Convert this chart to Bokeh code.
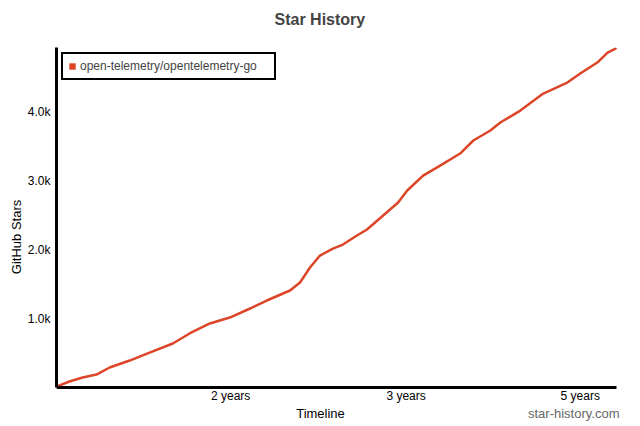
from bokeh.plotting import figure
from bokeh.models import Range1d, FixedTicker, Legend, LegendItem, Label, ColumnDataSource
from bokeh.embed import file_html
from bokeh.resources import INLINE

# ---- data ----
series_name = "open-telemetry/opentelemetry-go"
days = [0, 44, 89, 136, 181, 249, 317, 396, 453, 522, 590, 659, 716, 795, 829, 863, 897,
        941, 975, 1023, 1057, 1112, 1163, 1194, 1248, 1306, 1374, 1419, 1477, 1511, 1579,
        1657, 1739, 1783, 1841, 1876, 1903]
stars = [14, 87, 145, 188, 290, 391, 507, 638, 783, 928, 1014, 1145, 1261, 1406, 1522, 1739, 1913,
         2014, 2072, 2203, 2290, 2493, 2681, 2855, 3072, 3217, 3391, 3580, 3725, 3841, 4014,
         4261, 4420, 4551, 4710, 4855, 4913]
x_tick_positions = [593, 1190, 1783]
x_tick_labels = ["2 years", "3 years", "5 years"]
y_tick_positions = [1000, 2000, 3000, 4000]
y_tick_labels = ["1.0k", "2.0k", "3.0k", "4.0k"]

FONT = "Liberation Sans"
RED = "#dd4528"
X_END = 1906    # end of the drawn x axis
X_MAX = 1920    # a little room on the right for the credit text
Y_MAX = 4928
Y_PAD = -565    # room below the x axis for its labels and the credit line

p = figure(frame_width=564, frame_height=379, output_backend="svg", toolbar_location=None,
           x_range=Range1d(0, X_MAX), y_range=Range1d(Y_PAD, Y_MAX),
           min_border_left=56, min_border_right=20, min_border_top=47, min_border_bottom=0)

p.title.text = "Star History"
p.title.text_font = FONT
p.title.text_font_size = "16px"
p.title.text_font_style = "bold"
p.title.align = "left"
p.title.offset = 218
p.title.standoff = 0
p.title.padding = dict(left=0, right=0, top=0, bottom=20)

p.outline_line_color = None
p.xgrid.grid_line_color = None
p.ygrid.grid_line_color = None

src = ColumnDataSource(dict(x=days, y=stars))
line = p.line("x", "y", source=src, line_color=RED, line_width=2.5, line_join="round", line_cap="round")
# legend swatch: uses the same series, muted so it draws nothing in the plot area
swatch = p.rect("x", "y", source=src, width=1, height=1, fill_color=RED, line_color=None,
                muted_alpha=0)
swatch.muted = True

for ax in (p.xaxis[0], p.yaxis[0]):
    ax.axis_line_color = "black"
    ax.axis_line_width = 3
    ax.major_tick_line_color = None
    ax.minor_tick_line_color = None
    ax.major_tick_out = 0
    ax.major_tick_in = 0
    ax.minor_tick_out = 0
    ax.minor_tick_in = 0
    ax.major_label_text_font = FONT
    ax.major_label_text_font_size = "12px"
    ax.major_label_text_color = "black"
    ax.axis_label_text_font = FONT
    ax.axis_label_text_font_size = "13px"
    ax.axis_label_text_font_style = "normal"
    ax.axis_label_text_color = "black"

p.xaxis.fixed_location = 0
p.xaxis.bounds = (0, X_END)
p.xaxis.ticker = FixedTicker(ticks=x_tick_positions)
p.xaxis.major_label_overrides = dict(zip(x_tick_positions, x_tick_labels))
p.xaxis.major_label_standoff = 1

p.yaxis.bounds = (0, Y_MAX)
p.yaxis.ticker = FixedTicker(ticks=y_tick_positions)
p.yaxis.major_label_overrides = dict(zip(y_tick_positions, y_tick_labels))
p.yaxis.axis_label = "GitHub Stars"
p.yaxis.major_label_standoff = 6
p.yaxis.axis_label_standoff = 1

legend = Legend(items=[LegendItem(label=series_name, renderers=[swatch])],
                location="top_left", margin=5, padding=5, spacing=0,
                glyph_width=8, glyph_height=8, label_standoff=4, label_width=189,
                label_text_font=FONT, label_text_font_size="12px",
                border_line_color="black", border_line_width=2, border_line_alpha=1,
                background_fill_color="white", background_fill_alpha=1)
p.add_layout(legend)

# x axis title, centred on the whole chart as in the original
x_title = Label(x=264, y=13, x_units="screen", y_units="screen", text="Timeline",
                text_font=FONT, text_font_size="13px", text_color="black",
                text_align="center", text_baseline="middle")
p.add_layout(x_title)

credit = Label(x=563, y=13, x_units="screen", y_units="screen", text="star-history.com",
               text_font=FONT, text_font_size="13px", text_color="#666666",
               text_align="right", text_baseline="middle")
p.add_layout(credit)

open("out.html", "w").write(file_html(p, INLINE))
